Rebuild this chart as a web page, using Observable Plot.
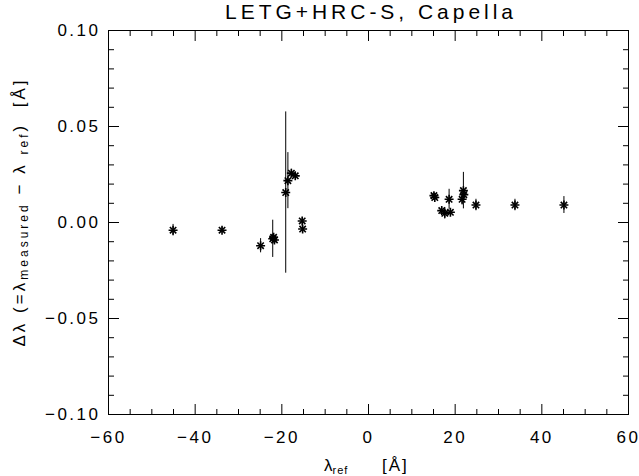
<!DOCTYPE html>
<html><head><meta charset="utf-8">
<script src="https://cdn.jsdelivr.net/npm/d3@7"></script>
<script src="https://cdn.jsdelivr.net/npm/@observablehq/plot@0.6"></script>
<style>body{margin:0;background:#fff}</style>
</head><body><div id="chart"></div>
<script>
const titleText = "LETG+HRC-S, Capella";
const lambdaRef   = [-45.1, -33.8, -24.9, -22.1, -21.7, -21.9, -19.1, -18.6, -17.8, -16.9, -15.3, -15.2,
                      15.1, 15.3, 16.9, 17.6, 18.9, 18.6, 21.6, 21.9, 22.0, 24.8, 33.8, 45.1];
const deltaLambda = [-0.0040, -0.0040, -0.0121, -0.0085, -0.0091, -0.0077, 0.0156, 0.0218, 0.0257, 0.0243, 0.0008, -0.0034,
                      0.0140, 0.0130, 0.0062, 0.0048, 0.0053, 0.0121, 0.0121, 0.0166, 0.0145, 0.0091, 0.0091, 0.0091];
const deltaErr    = [0.0030, 0.0015, 0.0037, 0.0097, 0.0020, 0.0020, 0.0420, 0.0146, 0.0020, 0.0015, 0.0015, 0.0015,
                      0.0015, 0.0015, 0.0015, 0.0030, 0.0015, 0.0052, 0.0030, 0.0095, 0.0015, 0.0030, 0.0030, 0.0044];
const xMajorTicks = [-60, -40, -20, 0, 20, 40, 60];
const xMinorTicks = [-55, -50, -45, -35, -30, -25, -15, -10, -5, 5, 10, 15, 25, 30, 35, 45, 50, 55];
const yMajorTicks = [-0.10, -0.05, 0.00, 0.05, 0.10];
const yMinorTicks = [-0.09, -0.08, -0.07, -0.06, -0.04, -0.03, -0.02, -0.01, 0.01, 0.02, 0.03, 0.04, 0.06, 0.07, 0.08, 0.09];

const data = lambdaRef.map((x, i) => ({x, y: deltaLambda[i], e: deltaErr[i]}));
const font = "'Liberation Sans', Arial, sans-serif";
const blank = () => "";

const plot = Plot.plot({
  width: 639, height: 476,
  marginLeft: 108, marginRight: 11, marginTop: 30, marginBottom: 62,
  style: {fontFamily: font, fontSize: "17px", background: "#fff", color: "#000"},
  x: {domain: [-60, 60], label: null},
  y: {domain: [-0.1, 0.1], label: null},
  marks: [
    Plot.frame({stroke: "#000"}),
    Plot.axisX({ticks: xMinorTicks, anchor: "bottom", tickSize: -5, tickFormat: blank, label: null}),
    Plot.axisX({ticks: xMinorTicks, anchor: "top", tickSize: -5, tickFormat: blank, label: null}),
    Plot.axisX({ticks: xMajorTicks, anchor: "bottom", tickSize: -10, tickFormat: blank, label: null}),
    Plot.axisX({ticks: xMajorTicks, anchor: "top", tickSize: -10, tickFormat: blank, label: null}),
    Plot.axisX({ticks: xMajorTicks, anchor: "bottom", tickSize: 0, tickPadding: 16, tickFormat: d3.format("d"), label: null}),
    Plot.axisY({ticks: yMinorTicks, anchor: "left", tickSize: -6, tickFormat: blank, label: null}),
    Plot.axisY({ticks: yMinorTicks, anchor: "right", tickSize: -6, tickFormat: blank, label: null}),
    Plot.axisY({ticks: yMajorTicks, anchor: "left", tickSize: -11, tickFormat: blank, label: null}),
    Plot.axisY({ticks: yMajorTicks, anchor: "right", tickSize: -11, tickFormat: blank, label: null}),
    Plot.axisY({ticks: yMajorTicks, anchor: "left", tickSize: 0, tickPadding: 8, tickFormat: d3.format(".2f"), label: null}),
    Plot.ruleX(data, {x: "x", y1: d => d.y - d.e, y2: d => d.y + d.e, stroke: "#000", strokeWidth: 1}),
    Plot.dot(data, {x: "x", y: "y", symbol: "plus", r: 3, stroke: "#000", strokeWidth: 1.6}),
    Plot.dot(data, {x: "x", y: "y", symbol: "times", r: 3, stroke: "#000", strokeWidth: 1.6})
  ]
});
document.getElementById("chart").appendChild(plot);

const svg = d3.select(plot);
svg.selectAll('g[aria-label$="tick label"]').attr("letter-spacing", "2.5px");

// title
svg.append("text")
  .attr("x", 225).attr("y", 19)
  .attr("text-anchor", "start")
  .attr("font-family", font).attr("font-size", 21)
  .attr("textLength", 288).attr("lengthAdjust", "spacing")
  .attr("fill", "#000")
  .text(titleText);

// x label
const xl = svg.append("text")
  .attr("x", 324).attr("y", 471)
  .attr("text-anchor", "start")
  .attr("font-family", font).attr("font-size", 17).attr("fill", "#000");
xl.append("tspan").text("λ");
xl.append("tspan").attr("font-size", 11).attr("dy", 3).attr("letter-spacing", "1px").text("ref");
xl.append("tspan").attr("x", 382).attr("dy", -3).attr("letter-spacing", "2px").text("[Å]");

// y label
const yl = svg.append("text")
  .attr("transform", "translate(25,212) rotate(-90)")
  .attr("text-anchor", "middle")
  .attr("font-family", font).attr("font-size", 17).attr("fill", "#000");
yl.append("tspan").text("Δλ (=λ");
yl.append("tspan").attr("font-size", 12).attr("dy", 3).text("measured");
yl.append("tspan").attr("dy", -3).text(" − λ ");
yl.append("tspan").attr("font-size", 12).attr("dy", 3).text("ref");
yl.append("tspan").attr("dy", -3).text(")  [Å]");
const natural = yl.node().getComputedTextLength();
const nChars = yl.text().length;
yl.attr("letter-spacing", ((269 - natural) / nChars).toFixed(2) + "px");
</script>
</body></html>
